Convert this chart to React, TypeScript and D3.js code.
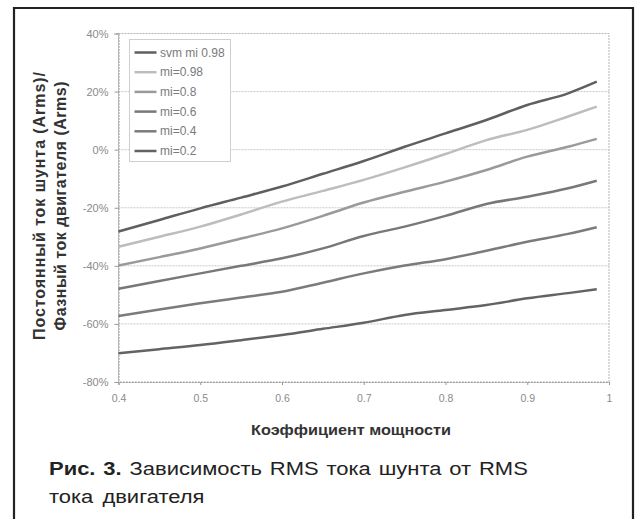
import { useEffect, useRef } from "react";
import * as d3 from "d3";

// power factor samples
const powerFactor = [0.4, 0.45, 0.5, 0.55, 0.6, 0.65, 0.7, 0.75, 0.8, 0.85, 0.9, 0.95, 0.985];

// ratio DC shunt current / motor phase current, %
const svmMi098 = [-28.2, -24.2, -20.2, -16.5, -12.7, -8.3, -3.9, 1.0, 5.6, 10.2, 15.4, 19.4, 23.4];
const mi098 = [-33.4, -30.0, -26.5, -22.3, -17.9, -14.2, -10.4, -6.1, -1.5, 3.3, 6.8, 11.4, 14.8];
const mi08 = [-39.9, -37.0, -34.0, -30.6, -27.1, -22.8, -18.2, -14.5, -11.0, -7.0, -2.4, 1.0, 3.7];
const mi06 = [-47.9, -45.2, -42.6, -40.0, -37.4, -34.0, -29.7, -26.5, -22.8, -18.7, -16.2, -13.3, -10.7];
const mi04 = [-57.3, -55.0, -52.9, -50.9, -48.9, -45.8, -42.6, -39.9, -37.7, -34.8, -31.7, -29.0, -26.7];
const mi02 = [-70.1, -68.7, -67.3, -65.6, -63.8, -61.7, -59.6, -56.9, -55.2, -53.5, -51.2, -49.4, -48.1];

const seriesNames = ["svm mi 0.98", "mi=0.98", "mi=0.8", "mi=0.6", "mi=0.4", "mi=0.2"];
const seriesValues = [svmMi098, mi098, mi08, mi06, mi04, mi02];
const seriesColors = ["#5f5f5f", "#bdbdbd", "#9a9a9a", "#787878", "#7b7b7b", "#636363"];

const xTicks = [0.4, 0.5, 0.6, 0.7, 0.8, 0.9, 1];
const yTicks = [40, 20, 0, -20, -40, -60, -80];

const xTitle = "Коэффициент мощности";
const yTitle1 = "Постоянный ток шунта (Arms)/";
const yTitle2 = "Фазный ток двигателя (Arms)";
const captionBold = "Рис. 3.";
const captionRest = " Зависимость RMS тока шунта от RMS";
const captionLine2 = "тока двигателя";

type Pt = { x: number; v: number };

const FONT = "Liberation Sans, Arial, sans-serif";

export default function App() {
  const svgRef = useRef<SVGSVGElement>(null);

  useEffect(() => {
    if (!svgRef.current) return;
    const W = 636, H = 519;
    const margin = { top: 33.5, right: 27, bottom: 137, left: 118.5 };
    const width = W - margin.left - margin.right;
    const height = H - margin.top - margin.bottom;

    const svg = d3.select(svgRef.current);
    svg.selectAll("*").remove();
    svg.attr("width", W).attr("height", H);

    svg.append("rect").attr("width", W).attr("height", H).attr("fill", "#fff");
    // outer frame (open at the bottom)
    svg.append("path")
      .attr("d", `M14,${H} V8 H633 V${H}`)
      .attr("fill", "none")
      .attr("stroke", "#222")
      .attr("stroke-width", 2.2);

    const g = svg.append("g").attr("transform", `translate(${margin.left},${margin.top})`);

    const xScale = d3.scaleLinear().domain([0.4, 1]).range([0, width]);
    const yScale = d3.scaleLinear().domain([-80, 40]).range([height, 0]);

    // grid
    g.selectAll("line.grid")
      .data(yTicks.filter(t => t !== 40 && t !== -80))
      .enter()
      .append("line")
      .attr("x1", 0)
      .attr("x2", width)
      .attr("y1", d => yScale(d))
      .attr("y2", d => yScale(d))
      .attr("stroke", "#c8c8c8")
      .attr("stroke-width", 1)
      .attr("stroke-dasharray", "2,1");

    // plot frame
    g.append("rect")
      .attr("width", width)
      .attr("height", height)
      .attr("fill", "none")
      .attr("stroke", "#b5b5b5")
      .attr("stroke-width", 1)
      .attr("stroke-dasharray", "2,1");

    const xAxis = d3.axisBottom<number>(xScale).tickValues(xTicks).tickFormat(d => String(d)).tickSize(3).tickPadding(10);
    const yAxis = d3.axisLeft<number>(yScale).tickValues(yTicks).tickFormat(d => `${d}%`).tickSize(4).tickPadding(6);

    const gx = g.append("g").attr("transform", `translate(0,${height})`).call(xAxis);
    gx.select(".domain").attr("stroke", "#999").attr("stroke-dasharray", "2,1");
    gx.selectAll(".tick line").attr("stroke", "#999");
    gx.selectAll("text").attr("fill", "#8a8a8a").attr("font-size", 10.5).attr("font-family", FONT);

    const gy = g.append("g").call(yAxis);
    gy.select(".domain").attr("stroke", "#999").attr("stroke-dasharray", "2,1");
    gy.selectAll(".tick line").attr("stroke", "#999");
    gy.selectAll("text").attr("fill", "#8a8a8a").attr("font-size", 11).attr("font-family", FONT);

    // lines
    const line = d3.line<Pt>()
      .x(d => xScale(d.x))
      .y(d => yScale(d.v))
      .curve(d3.curveMonotoneX);

    const shaped = seriesValues.map((vals, i) => ({
      name: seriesNames[i],
      color: seriesColors[i],
      points: vals.map((v, j) => ({ x: powerFactor[j], v })),
    }));

    g.selectAll("path.series")
      .data(shaped)
      .enter()
      .append("path")
      .attr("fill", "none")
      .attr("stroke", d => d.color)
      .attr("stroke-width", 2.5)
      .attr("stroke-linejoin", "round")
      .attr("d", d => line(d.points));

    // legend
    const leg = svg.append("g").attr("transform", "translate(129.5,39.5)");
    leg.append("rect")
      .attr("width", 101)
      .attr("height", 122)
      .attr("fill", "#fff")
      .attr("stroke", "#cfcfcf")
      .attr("stroke-width", 1);
    const rowY = d3.scaleLinear().domain([0, 5]).range([13, 111.5]);
    leg.selectAll("line.key")
      .data(shaped)
      .enter()
      .append("line")
      .attr("x1", 5)
      .attr("x2", 27)
      .attr("y1", (_, i) => rowY(i))
      .attr("y2", (_, i) => rowY(i))
      .attr("stroke", d => d.color)
      .attr("stroke-width", 2.5);
    leg.selectAll("text.key")
      .data(shaped)
      .enter()
      .append("text")
      .attr("x", 30.5)
      .attr("y", (_, i) => rowY(i) + 4)
      .attr("fill", "#7a7a7a")
      .attr("font-size", 12)
      .attr("font-family", FONT)
      .text(d => d.name);

    // axis titles
    svg.append("text")
      .attr("transform", "translate(351,435) scale(1.12,1)")
      .attr("text-anchor", "middle")
      .attr("fill", "#333")
      .attr("font-size", 14.5)
      .attr("font-weight", "bold")
      .attr("font-family", FONT)
      .text(xTitle);

    const yTitleLen = [268, 249];
    [yTitle1, yTitle2].forEach((t, i) => {
      svg.append("text")
        .attr("transform", `translate(${45 + i * 21},206) rotate(-90)`)
        .attr("text-anchor", "middle")
        .attr("fill", "#333")
        .attr("font-size", 16)
        .attr("font-weight", "bold")
        .attr("font-family", FONT)
        .attr("textLength", yTitleLen[i])
        .attr("lengthAdjust", "spacing")
        .text(t);
    });

    // caption
    const cap = svg.append("text")
      .attr("transform", "translate(49,475) scale(1.2,1)")
      .attr("fill", "#222")
      .attr("font-size", 18.3)
      .attr("font-family", FONT)
      .attr("word-spacing", 1.5);
    cap.append("tspan").attr("font-weight", "bold").text(captionBold);
    cap.append("tspan").text(captionRest);

    svg.append("text")
      .attr("transform", "translate(49,502.5) scale(1.2,1)")
      .attr("fill", "#222")
      .attr("font-size", 18.3)
      .attr("font-family", FONT)
      .attr("word-spacing", 2.5)
      .text(captionLine2);
  }, []);

  return (
    <div style={{ position: "absolute", left: 0, top: 0 }}>
      <svg ref={svgRef} style={{ display: "block" }}></svg>
    </div>
  );
}
